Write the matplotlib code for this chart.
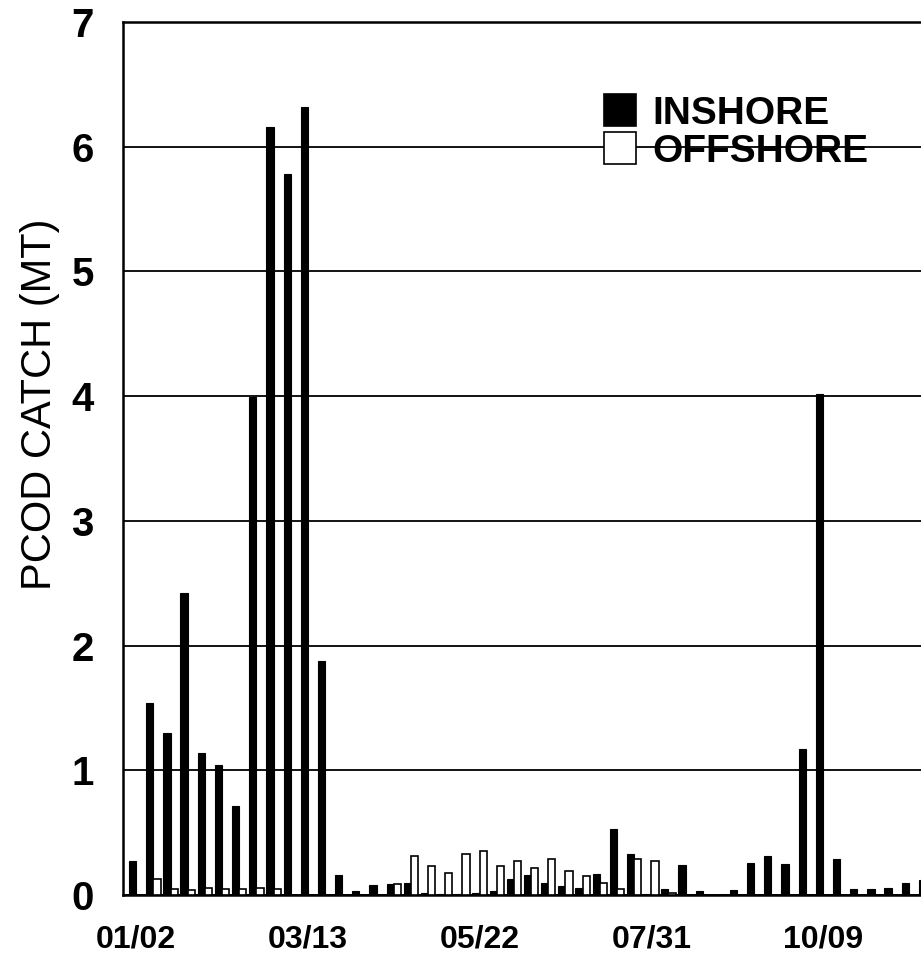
import numpy as np
import matplotlib
matplotlib.use('Agg')
import matplotlib.pyplot as plt
from matplotlib.patches import Rectangle

plt.rcParams['font.family'] = ['Liberation Sans', 'DejaVu Sans']

# weekly catch (MT), week 0 = 01/02
inshore = [0.27, 1.54, 1.30, 2.42, 1.14, 1.04, 0.71, 3.99, 6.16, 5.78,
           6.32, 1.88, 0.16, 0.03, 0.08, 0.09, 0.10, 0.02, 0.01, 0.01,
           0.02, 0.03, 0.13, 0.16, 0.10, 0.07, 0.06, 0.17, 0.53, 0.33,
           0.01, 0.05, 0.24, 0.03, 0.00, 0.04, 0.26, 0.31, 0.25, 1.17,
           4.02, 0.29, 0.05, 0.05, 0.06, 0.10, 0.12]
offshore = [0.00, 0.13, 0.05, 0.04, 0.06, 0.05, 0.05, 0.06, 0.05, 0.00,
            0.00, 0.00, 0.00, 0.00, 0.00, 0.09, 0.31, 0.23, 0.18, 0.33,
            0.35, 0.23, 0.27, 0.22, 0.29, 0.19, 0.15, 0.10, 0.05, 0.29,
            0.27, 0.02, 0.00, 0.00, 0.00, 0.00, 0.00, 0.00, 0.00, 0.00,
            0.00, 0.00, 0.00, 0.00, 0.00, 0.00, 0.00]
tick_weeks = [0, 10, 20, 30, 40]
tick_labels = ['01/02', '03/13', '05/22', '07/31', '10/09']
series_names = ['INSHORE', 'OFFSHORE']

W, H = 921, 957
fig = plt.figure(figsize=(W / 100, H / 100), dpi=100)
ax = fig.add_axes([123 / W, (H - 895) / H, (945 - 123) / W, (895 - 22) / H])

weeks = np.arange(len(inshore))
bw = 0.42
ax.bar(weeks - bw, inshore, width=bw, align='edge', color='black',
       edgecolor='black', linewidth=0.8, zorder=3)
ax.bar(weeks, offshore, width=bw, align='edge', color='white',
       edgecolor='black', linewidth=1.2, zorder=3)

# pixel -> week mapping: x = 136.2 + 17.17 * week
ax.set_xlim((123 - 136.2) / 17.17, (945 - 136.2) / 17.17)
ax.set_ylim(0, 7)

ax.set_yticks(range(0, 8))
ax.set_xticks(tick_weeks)
ax.set_xticklabels(tick_labels)
ax.tick_params(axis='y', length=0, pad=21, labelsize=29)
ax.tick_params(axis='x', length=0, pad=21, labelsize=23)
for lab in ax.get_xticklabels() + ax.get_yticklabels():
    lab.set_fontweight('bold')

ax.yaxis.grid(True, color='black', linewidth=1.3, zorder=1)
ax.set_axisbelow(True)
for sp in ax.spines.values():
    sp.set_linewidth(1.8)
    sp.set_color('black')

fig.text(40 / W, 1 - 404 / H, 'PCOD CATCH (MT)', rotation=90,
         ha='center', va='center', fontsize=30)

# legend: squares + bold labels, no frame (gridline shows through)
for name, face, yc in [(series_names[0], 'black', 110), (series_names[1], 'white', 148)]:
    fig.patches.append(Rectangle((604 / W, 1 - (yc + 16) / H), 32 / W, 32 / H,
                                 facecolor=face, edgecolor='black', linewidth=1.2,
                                 transform=fig.transFigure, figure=fig, zorder=5))
    fig.text(652 / W, 1 - (yc + 14) / H, name, fontsize=28, fontweight='bold',
             ha='left', va='baseline', zorder=6)

fig.savefig('out.png', dpi=100)
